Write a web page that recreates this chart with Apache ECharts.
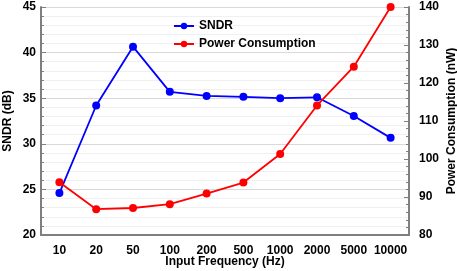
<!DOCTYPE html>
<html><head><meta charset="utf-8">
<script src="https://cdn.jsdelivr.net/npm/echarts@6/dist/echarts.min.js"></script>
<style>html,body{margin:0;padding:0;background:#fff}#c{width:457px;height:271px}</style>
</head><body><div id="c"></div>
<script>
const categories = ['10','20','50','100','200','500','1000','2000','5000','10000'];
const sndr = [24.6, 34.2, 40.65, 35.7, 35.25, 35.15, 35.0, 35.1, 33.05, 30.65];
const power = [93.9, 86.8, 87.1, 88.1, 90.9, 93.8, 101.3, 114.1, 124.3, 140.0];
const leftTicks = {min: 20, max: 45, interval: 5};
const rightTicks = {min: 80, max: 140, interval: 10};

const font = 'Liberation Sans, Arial, sans-serif';
const axisGray = '#7f7f7f';
const lbl = {color: '#000', fontWeight: 'bold', fontSize: 12, fontFamily: font};
const chart = echarts.init(document.getElementById('c'), null, {renderer: 'canvas'});
chart.setOption({
  animation: false,
  grid: {left: 41, right: 48, top: 7, bottom: 36, containLabel: false, outerBoundsMode: 'none'},
  legend: {
    orient: 'vertical', left: 168, top: 15, itemGap: 6, itemWidth: 20, itemHeight: 8,
    textStyle: {color: '#000', fontWeight: 'bold', fontSize: 12, fontFamily: font},
    data: ['SNDR', 'Power Consumption']
  },
  xAxis: {
    type: 'category', data: categories, boundaryGap: true,
    name: 'Input Frequency (Hz)', nameLocation: 'middle', nameGap: 21, nameMoveOverlap: false,
    nameTextStyle: lbl,
    axisLine: {lineStyle: {color: axisGray, width: 2}},
    axisTick: {show: false},
    axisLabel: Object.assign({margin: 10, interval: 0, hideOverlap: false}, lbl),
    splitLine: {show: false}
  },
  yAxis: [{
    type: 'value', min: leftTicks.min, max: leftTicks.max, interval: leftTicks.interval,
    name: 'SNDR (dB)', nameLocation: 'middle', nameGap: 27, nameMoveOverlap: false, nameTextStyle: lbl,
    axisLine: {show: true, lineStyle: {color: axisGray, width: 2}},
    axisTick: {show: true, inside: true, length: 5, lineStyle: {color: axisGray, width: 1}},
    minorTick: {show: true, splitNumber: 5, length: 3, lineStyle: {color: axisGray}},
    axisLabel: Object.assign({margin: 5}, lbl),
    splitLine: {show: true, lineStyle: {color: '#d9d9d9', width: 1}},
    minorSplitLine: {show: true, lineStyle: {color: '#f0f0f0', width: 1}}
  }, {
    type: 'value', min: rightTicks.min, max: rightTicks.max, interval: rightTicks.interval,
    position: 'right',
    name: 'Power Consumption (nW)', nameLocation: 'middle', nameGap: 37, nameMoveOverlap: false, nameTextStyle: lbl,
    axisLine: {show: true, lineStyle: {color: axisGray, width: 2}},
    axisTick: {show: true, inside: true, length: 5, lineStyle: {color: axisGray, width: 1}},
    minorTick: {show: true, splitNumber: 5, length: 3, lineStyle: {color: axisGray}},
    axisLabel: Object.assign({margin: 10}, lbl),
    splitLine: {show: false}
  }],
  series: [{
    name: 'SNDR', type: 'line', data: sndr, yAxisIndex: 0,
    symbol: 'circle', symbolSize: 8,
    itemStyle: {color: '#0000ff'}, lineStyle: {color: '#0000ff', width: 1.8}
  }, {
    name: 'Power Consumption', type: 'line', data: power, yAxisIndex: 1,
    symbol: 'circle', symbolSize: 8,
    itemStyle: {color: '#ff0000'}, lineStyle: {color: '#ff0000', width: 1.8}
  }]
});
</script></body></html>
